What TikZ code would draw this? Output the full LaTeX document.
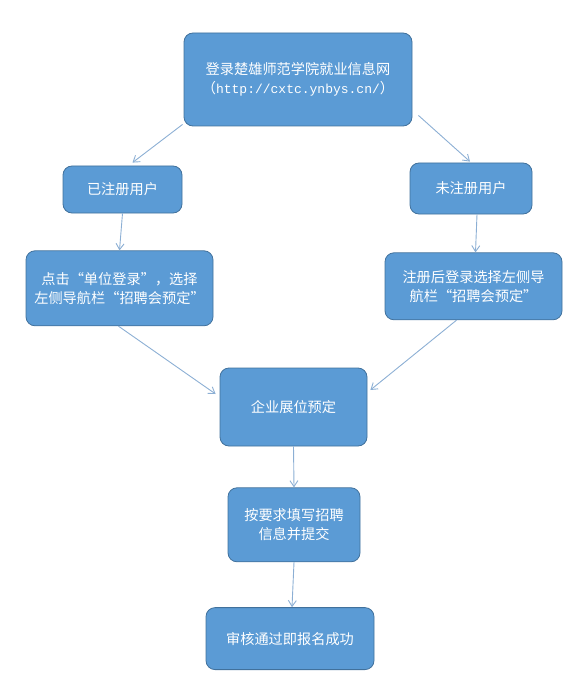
\documentclass[tikz,border=0pt]{standalone}
\usepackage{fontspec}
\setmainfont{Noto Sans CJK SC}
\newfontfamily\urlfont{Liberation Mono}
\usepackage{tikz}
\usetikzlibrary{%
	calc,%
	arrows.meta,%
	positioning,%
}
\definecolor{cblue}{RGB}{91, 155, 213}
\definecolor{cbluedark}{RGB}{65, 113, 156}
\definecolor{cline}{RGB}{140, 175, 212}
\tikzset{
	>={Straight Barb[length=6pt,width=8pt]},%
	nodes={align=center},%
	stepbox/.style={%
			draw=cbluedark,%
			fill=cblue,%
			rectangle,%
			thick,%
			rounded corners=9pt,%
			text=white,%
			font={\fontsize{14.2}{19}\selectfont},%
			inner sep=2pt},%
	flow/.style={%
			->,%
			draw=cline,%
			line width=0.9pt},%
}

\begin{document}
\begin{tikzpicture}[x=1pt, y=1pt]%
	\useasboundingbox (0,0) rectangle (586,-679);
	\node[stepbox, minimum width=228pt, minimum height=93pt] (web) at (298,-79.5) {登录楚雄师范学院就业信息网 \\ （{\urlfont\fontsize{13}{19}\selectfont http://cxtc.ynbys.cn/}）};
	\node[stepbox, minimum width=119pt, minimum height=47pt] (reg) at (122.5,-189.5) {已注册用户};
	\node[stepbox, minimum width=122pt, minimum height=51pt] (unreg) at (471,-188.5) {未注册用户};
	\node[stepbox, minimum width=187pt, minimum height=75pt] (click) [below=37pt of reg, xshift=-3pt] {点击“单位登录”，选择 \\ 左侧导航栏“招聘会预定”};
	\node[stepbox, minimum width=177pt, minimum height=67pt] (after) [below=38pt of unreg, xshift=2.5pt] {注册后登录选择左侧导 \\ 航栏“招聘会预定”};
	\node[stepbox, minimum width=147pt, minimum height=78pt] (booth) at (293.5,-407) {企业展位预定};
	\node[stepbox, minimum width=132pt, minimum height=74pt] (form) [below=41pt of booth, xshift=0.5pt] {按要求填写招聘 \\ 信息并提交};
	\node[stepbox, minimum width=168pt, minimum height=62pt] (pass) [below=45pt of form, xshift=-4pt] {审核通过即报名成功};

	\draw[flow] ($(web.south west)+(-1,2)$) to ($(reg.north)+(10,3)$);
	\draw[flow] ($(web.south east)+(6,11)$) to ($(unreg.north)+(-1,1)$);
	\draw[flow] (reg.south) to (click.north);
	\draw[flow] ($(unreg.south)+(6,0)$) to ($(after.north)+(2,0)$);
	\draw[flow] ($(click.south)+(-1,0)$) to ($(booth.west)+(-4,13)$);
	\draw[flow] ($(after.south)+(-17,0)$) to ($(booth.east)+(3,17)$);
	\draw[flow] (booth.south) to (form.north);
	\draw[flow] (form.south) to ($(pass.north)+(2,0)$);
\end{tikzpicture}
\end{document}
